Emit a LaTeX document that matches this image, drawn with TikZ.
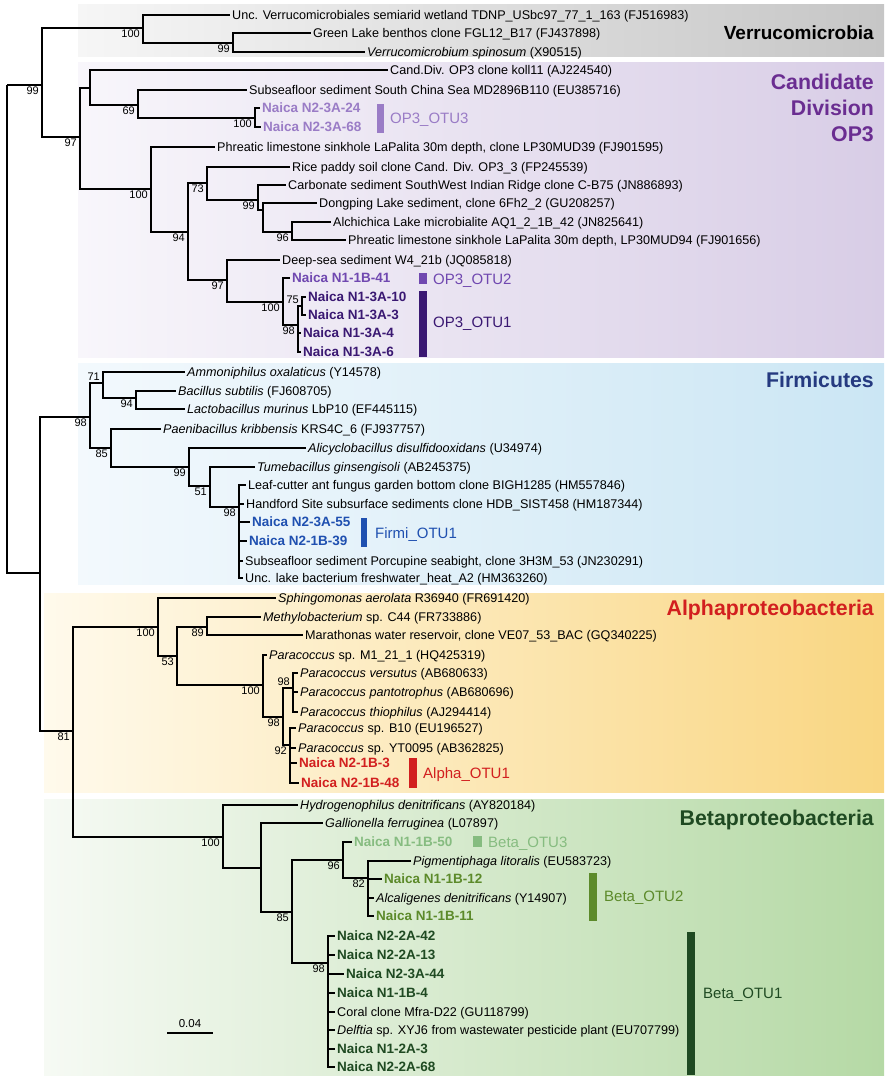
\documentclass[tikz,border=0pt]{standalone}
\usepackage{fontspec}
\setmainfont{Liberation Sans}
\definecolor{verrL}{HTML}{F6F6F6}\definecolor{verrR}{HTML}{C6C6C6}
\definecolor{op3L}{HTML}{F8F6FB}\definecolor{op3R}{HTML}{D8CDE6}
\definecolor{firL}{HTML}{F3F9FD}\definecolor{firR}{HTML}{CBE6F4}
\definecolor{alpL}{HTML}{FFFAEC}\definecolor{alpR}{HTML}{F9D682}
\definecolor{betL}{HTML}{F6FAF4}\definecolor{betR}{HTML}{B5D9A5}
\definecolor{op3t}{HTML}{6A2D91}\definecolor{op3a}{HTML}{9A7CC6}
\definecolor{op3b}{HTML}{7048B0}\definecolor{op3c}{HTML}{3A1872}
\definecolor{firt}{HTML}{253A80}\definecolor{firb}{HTML}{1F50B0}
\definecolor{alpr}{HTML}{D21F1F}
\definecolor{beta}{HTML}{86BC80}\definecolor{betb}{HTML}{5C8A2A}\definecolor{betc}{HTML}{1F4A22}
\begin{document}
\begin{tikzpicture}[x=1pt,y=-1pt,
br/.style={line width=2.5pt},
lf/.style={anchor=west,inner xsep=2pt,inner ysep=0pt,text height=9pt,text depth=0pt,font=\fontsize{12.6}{15}\selectfont},
nk/.style={lf,text height=9.7pt,font=\bfseries\fontsize{13.5}{16}\selectfont},
bs/.style={anchor=north east,inner sep=1pt,font=\fontsize{11}{13}\selectfont},
bsu/.style={bs,anchor=south east},
otu/.style={anchor=west,inner sep=0pt,text height=10.8pt,text depth=0pt,font=\fontsize{15}{18}\selectfont},
grp/.style={anchor=east,align=right,inner sep=0pt,font=\bfseries\fontsize{21.3}{26}\selectfont}]
\useasboundingbox(0,0)rectangle(892,1081);
\shade[left color=verrL,right color=verrR](78,5)rectangle(884,57);
\shade[left color=op3L,right color=op3R](78,63)rectangle(884,357);
\shade[left color=firL,right color=firR](78,363)rectangle(884,584);
\shade[left color=alpL,right color=alpR](44,593)rectangle(884,792);
\shade[left color=betL,right color=betR](44,799)rectangle(884,1075);
\node[grp,font=\bfseries\fontsize{19}{22}\selectfont](gverr)at(874,33){Verrucomicrobia};
\node[grp,text=op3t](gop3)at(874,108){Candidate\\Division\\OP3};
\node[grp,text=firt](gfir)at(874,380){Firmicutes};
\node[grp,text=alpr](galp)at(874,610){Alphaproteobacteria};
\node[grp,text=betc](gbet)at(874,820){Betaproteobacteria};
\coordinate(r)at(7,85);\coordinate(a)at(42,85);\coordinate(v)at(143,28);\coordinate(v2)at(233,43);
\coordinate(o)at(80,137);\coordinate(o1)at(90,88);\coordinate(o3)at(138,105);\coordinate(o4)at(255,118);
\coordinate(o2)at(151,189);\coordinate(o5)at(188,232);\coordinate(o6)at(207,183);\coordinate(o8)at(258,200);
\coordinate(o9)at(263,210);\coordinate(o10)at(292,232);\coordinate(o7)at(227,280);\coordinate(o11)at(283,302);
\coordinate(o12)at(298,325);\coordinate(o13)at(302,306);
\coordinate(b)at(40,573);\coordinate(f)at(90,417);\coordinate(f1)at(103,383);\coordinate(f3)at(136,398);
\coordinate(f2)at(111,448);\coordinate(f4)at(189,467);\coordinate(f5)at(210,486);\coordinate(f6)at(239,507);
\coordinate(c)at(73,731);\coordinate(al)at(158,627);\coordinate(al1)at(177,656);\coordinate(al2)at(207,627);
\coordinate(al3)at(263,685);\coordinate(al4)at(283,717);\coordinate(al5)at(293,688);\coordinate(al6)at(290,745);
\coordinate(be)at(223,837);\coordinate(be1)at(261,868);\coordinate(be2)at(292,912);\coordinate(be3)at(343,860);
\coordinate(be5)at(368,878);\coordinate(be4)at(328,963);
\node[lf](t1)at(230,15){Unc. Verrucomicrobiales semiarid wetland TDNP\_USbc97\_77\_1\_163 (FJ516983)};
\node[lf](t2)at(311,33){Green Lake benthos clone FGL12\_B17 (FJ437898)};
\node[lf](t3)at(365,52){\textit{Verrucomicrobium spinosum} (X90515)};
\node[lf](t4)at(388,70){Cand.Div. OP3 clone koll11 (AJ224540)};
\node[lf](t5)at(247,90){Subseafloor sediment South China Sea MD2896B110 (EU385716)};
\node[nk,text=op3a](t6)at(260,108){Naica N2-3A-24};
\node[nk,text=op3a](t7)at(261,127){Naica N2-3A-68};
\node[lf](t8)at(215,147){Phreatic limestone sinkhole LaPalita 30m depth, clone LP30MUD39 (FJ901595)};
\node[lf](t9)at(290,167){Rice paddy soil clone Cand. Div. OP3\_3 (FP245539)};
\node[lf](t10)at(286,185){Carbonate sediment SouthWest Indian Ridge clone C-B75 (JN886893)};
\node[lf](t11)at(317,203){Dongping Lake sediment, clone 6Fh2\_2 (GU208257)};
\node[lf](t12)at(331,222){Alchichica Lake microbialite AQ1\_2\_1B\_42 (JN825641)};
\node[lf](t13)at(346,240){Phreatic limestone sinkhole LaPalita 30m depth, LP30MUD94 (FJ901656)};
\node[lf](t14)at(280,260){Deep-sea sediment W4\_21b (JQ085818)};
\node[nk,text=op3b](t15)at(290,278){Naica N1-1B-41};
\node[nk,text=op3c](t16)at(306,297){Naica N1-3A-10};
\node[nk,text=op3c](t17)at(306,315){Naica N1-3A-3};
\node[nk,text=op3c](t18)at(301,333){Naica N1-3A-4};
\node[nk,text=op3c](t19)at(301,352){Naica N1-3A-6};
\node[lf](t20)at(185,372){\textit{Ammoniphilus oxalaticus} (Y14578)};
\node[lf](t21)at(176,391){\textit{Bacillus subtilis} (FJ608705)};
\node[lf](t22)at(185,409){\textit{Lactobacillus murinus} LbP10 (EF445115)};
\node[lf](t23)at(161,429){\textit{Paenibacillus kribbensis} KRS4C\_6 (FJ937757)};
\node[lf](t24)at(306,448){\textit{Alicyclobacillus disulfidooxidans} (U34974)};
\node[lf](t25)at(255,467){\textit{Tumebacillus ginsengisoli} (AB245375)};
\node[lf](t26)at(246,485){Leaf-cutter ant fungus garden bottom clone BIGH1285 (HM557846)};
\node[lf](t27)at(244,504){Handford Site subsurface sediments clone HDB\_SIST458 (HM187344)};
\node[nk,text=firb](t28)at(250,522){Naica N2-3A-55};
\node[nk,text=firb](t29)at(247,541){Naica N2-1B-39};
\node[lf](t30)at(243,561){Subseafloor sediment Porcupine seabight, clone 3H3M\_53 (JN230291)};
\node[lf](t31)at(243,578){Unc. lake bacterium freshwater\_heat\_A2 (HM363260)};
\node[lf](t32)at(276,598){\textit{Sphingomonas aerolata} R36940 (FR691420)};
\node[lf](t33)at(261,617){\textit{Methylobacterium} sp. C44 (FR733886)};
\node[lf](t34)at(303,635){Marathonas water reservoir, clone VE07\_53\_BAC (GQ340225)};
\node[lf](t35)at(267,655){\textit{Paracoccus} sp. M1\_21\_1 (HQ425319)};
\node[lf](t36)at(298,673){\textit{Paracoccus versutus} (AB680633)};
\node[lf](t37)at(298,692){\textit{Paracoccus pantotrophus} (AB680696)};
\node[lf](t38)at(298,712){\textit{Paracoccus thiophilus} (AJ294414)};
\node[lf](t39)at(296,728){\textit{Paracoccus} sp. B10 (EU196527)};
\node[lf](t40)at(296,748){\textit{Paracoccus} sp. YT0095 (AB362825)};
\node[nk,text=alpr](t41)at(297,763){Naica N2-1B-3};
\node[nk,text=alpr](t42)at(299,783){Naica N2-1B-48};
\node[lf](t43)at(298,805){\textit{Hydrogenophilus denitrificans} (AY820184)};
\node[lf](t44)at(323,823){\textit{Gallionella ferruginea} (L07897)};
\node[nk,text=beta](t45)at(352,842){Naica N1-1B-50};
\node[lf](t46)at(411,861){\textit{Pigmentiphaga litoralis} (EU583723)};
\node[nk,text=betb](t47)at(382,879){Naica N1-1B-12};
\node[lf](t48)at(374,898){\textit{Alcaligenes denitrificans} (Y14907)};
\node[nk,text=betb](t49)at(374,916){Naica N1-1B-11};
\node[nk,text=betc](t50)at(335,936){Naica N2-2A-42};
\node[nk,text=betc](t51)at(335,955){Naica N2-2A-13};
\node[nk,text=betc](t52)at(344,974){Naica N2-3A-44};
\node[nk,text=betc](t53)at(335,993){Naica N1-1B-4};
\node[lf](t54)at(335,1012){Coral clone Mfra-D22 (GU118799)};
\node[lf](t55)at(335,1030){\textit{Delftia} sp. XYJ6 from wastewater pesticide plant (EU707799)};
\node[nk,text=betc](t56)at(335,1049){Naica N1-2A-3};
\node[nk,text=betc](t57)at(335,1067){Naica N2-2A-68};
\foreach \p/\q in {r/a,r/b,a/v,a/o,v/t1,v/v2,v2/t2,v2/t3,o/o1,o/o2,o1/t4,o1/o3,o3/t5,o3/o4,o4/t6,o4/t7,
 o2/t8,o2/o5,o5/o6,o5/o7,o6/t9,o6/o8,o8/t10,o8/o9,o9/t11,o9/o10,o10/t12,o10/t13,o7/t14,o7/o11,
 o11/t15,o11/o12,o12/o13,o12/t18,o12/t19,o13/t16,o13/t17,
 b/f,b/c,f/f1,f/f2,f1/t20,f1/f3,f3/t21,f3/t22,f2/t23,f2/f4,f4/t24,f4/f5,f5/t25,f5/f6,
 f6/t26,f6/t27,f6/t28,f6/t29,f6/t30,f6/t31,
 c/al,c/be,al/t32,al/al1,al1/al2,al1/al3,al2/t33,al2/t34,al3/t35,al3/al4,al4/al5,al4/al6,
 al5/t36,al5/t37,al5/t38,al6/t39,al6/t40,al6/t41,al6/t42,
 be/t43,be/be1,be1/t44,be1/be2,be2/be3,be2/be4,be3/t45,be3/be5,be5/t46,be5/t47,be5/t48,be5/t49,
 be4/t50,be4/t51,be4/t52,be4/t53,be4/t54,be4/t55,be4/t56,be4/t57}
 \draw[br](\p)|-(\q);
\foreach \n/\t in {a/99,v/100,v2/99,o/97,o3/69,o4/100,o2/100,o5/94,o6/73,o8/99,o10/96,o7/97,o11/100,o12/98,
 f/98,f3/94,f2/85,f4/99,f5/51,f6/98,c/81,al/100,al1/53,al2/89,al3/100,al4/98,al6/92,
 be/100,be2/85,be3/96,be5/82,be4/98}
 \node[bs](bs-\n)at([xshift=-2pt,yshift=-1pt]\n){\t};
\foreach \n/\t in {o13/75,f1/71,al5/98}
 \node[bsu](bs-\n)at([xshift=-2pt,yshift=1pt]\n){\t};
\fill[op3a](377,104)rectangle(384,133);\node[otu,text=op3a](otu-op3c)at(390,118){OP3\_OTU3};
\fill[op3b](419,273)rectangle(427,284);\node[otu,text=op3b](otu-op3b)at(433,279){OP3\_OTU2};
\fill[op3c](419,291)rectangle(427,357);\node[otu,text=op3c](otu-op3a)at(433,322){OP3\_OTU1};
\fill[firb](361,518)rectangle(367,547);\node[otu,text=firb](otu-fir)at(375,533){Firmi\_OTU1};
\fill[alpr](409,758)rectangle(417,788);\node[otu,text=alpr](otu-alp)at(423,773){Alpha\_OTU1};
\fill[beta](473,836)rectangle(482,847);\node[otu,text=beta](otu-betc)at(488,842){Beta\_OTU3};
\fill[betb](589,873)rectangle(597,921);\node[otu,text=betb](otu-betb)at(604,896){Beta\_OTU2};
\fill[betc](687,932)rectangle(695,1075);\node[otu,text=betc](otu-beta)at(703,993){Beta\_OTU1};
\coordinate(sL)at(167,1033);\coordinate(sR)at(213,1033);
\draw[line width=1.8pt](sL)--node[above=1.5pt,font=\fontsize{11.5}{14}\selectfont](sb){0.04}(sR);
\end{tikzpicture}
\end{document}
